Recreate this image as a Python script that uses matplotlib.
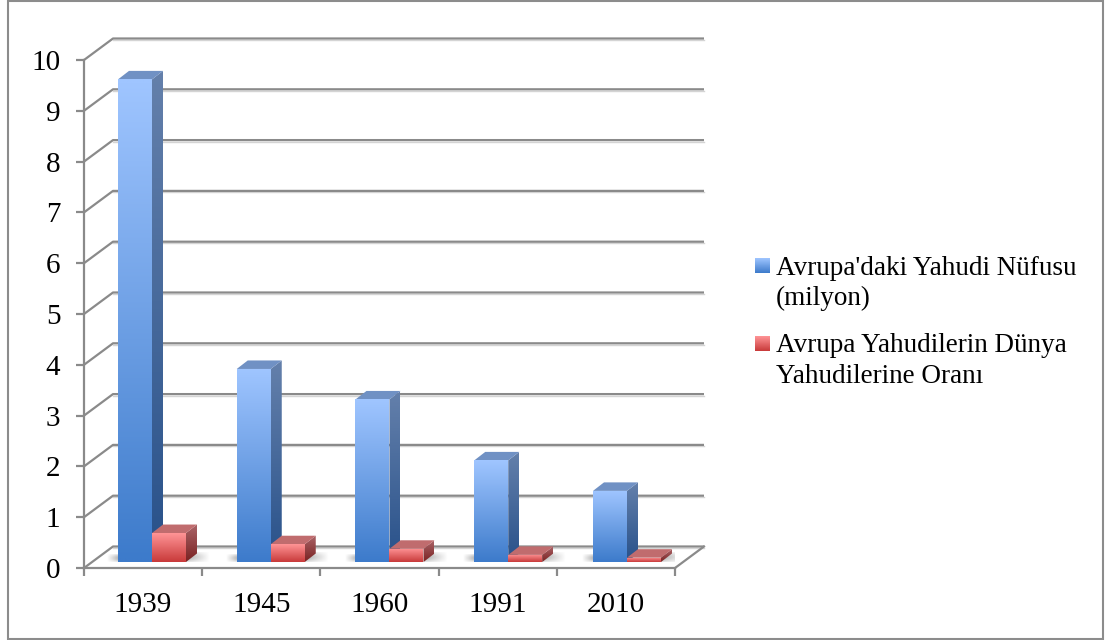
#!/usr/bin/env python3
# plot.py
import matplotlib
matplotlib.use("Agg")
import matplotlib.pyplot as plt
import numpy as np
from matplotlib.colors import LinearSegmentedColormap
from matplotlib.patches import Polygon, Rectangle

plt.rcParams["font.family"] = ["Liberation Serif", "DejaVu Serif"]

# === DATA ===
YEARS = ["1939", "1945", "1960", "1991", "2010"]
POPULATION = [9.5, 3.8, 3.2, 2.0, 1.4]
SHARE = [0.57, 0.35, 0.26, 0.14, 0.085]
LEGEND_LABELS = ["Avrupa'daki Yahudi Nüfusu\n(milyon)",
                 "Avrupa Yahudilerin Dünya\nYahudilerine Oranı"]
Y_TICKS = list(range(0, 11))

# === STYLE ===
W, H = 1105, 640
AX_L, AX_R, AX_T, AX_B = 84, 675, 60, 568  # pixels
PX_X = (AX_R - AX_L) / len(YEARS)  # px per category
PX_Y = (AX_B - AX_T) / 10  # px per unit

GRID = "#8a8a8a"
WALL_DX, WALL_DY = 29 / PX_X, 21.5 / PX_Y  # back wall offset
BAR_W = 34 / PX_X
BAR_STEP = 118.75 / PX_X
BAR_DX, BAR_DY = 11 / PX_X, 8.5 / PX_Y  # bar depth
BASE = 6 / PX_Y  # bars stand a bit above the front edge

BLUE = dict(front=("#9fc5ff", "#3d7bcb"), side=("#6480ab", "#28518a"), top="#7091c4")
RED = dict(front=("#ff9496", "#c83a3a"), side=("#aa6468", "#7a2222"), top="#c06c6e")


def vgrad(c_top, c_bottom):
    cmap = LinearSegmentedColormap.from_list("g", [c_top, c_bottom])
    return cmap(np.linspace(0, 1, 64))[:, None, :]


def grad_poly(ax, pts, colors, z):
    """Fill a polygon with a vertical gradient."""
    pts = np.array(pts)
    ext = [pts[:, 0].min(), pts[:, 0].max(), pts[:, 1].min(), pts[:, 1].max()]
    im = ax.imshow(vgrad(*colors), extent=ext, aspect="auto", zorder=z,
                   interpolation="bilinear", origin="upper")
    poly = Polygon(pts, transform=ax.transData, facecolor="none", edgecolor="none")
    ax.add_patch(poly)
    im.set_clip_path(poly)
    return im


def shadow(ax, x0, x1, y0, y1, fade_right, z):
    """Soft floor shadow next to a bar."""
    a = np.linspace(0.55, 0, 32) if fade_right else np.linspace(0, 0.45, 32)
    rgba = np.zeros((8, 32, 4))
    rgba[..., :3] = 0.4
    # fade towards the top and bottom of the strip too
    rgba[..., 3] = a * np.sin(np.linspace(0.4, np.pi - 0.4, 8))[:, None]
    ax.imshow(rgba, extent=[x0, x1, y0, y1], aspect="auto", zorder=z,
              interpolation="bilinear")


def draw_bar(ax, x, val, st, z):
    y0, y1 = BASE, BASE + val
    grad_poly(ax, [(x + BAR_W, y0), (x + BAR_W + BAR_DX, y0 + BAR_DY),
                   (x + BAR_W + BAR_DX, y1 + BAR_DY), (x + BAR_W, y1)], st["side"], z)
    ax.add_patch(Polygon([(x, y1), (x + BAR_DX, y1 + BAR_DY),
                          (x + BAR_W + BAR_DX, y1 + BAR_DY), (x + BAR_W, y1)],
                         facecolor=st["top"], edgecolor="none", zorder=z))
    grad_poly(ax, [(x, y0), (x + BAR_W, y0), (x + BAR_W, y1), (x, y1)], st["front"], z + 0.1)


fig = plt.figure(figsize=(W / 100, H / 100), dpi=100, facecolor="white")
ax = fig.add_axes([AX_L / W, 1 - AX_B / H, (AX_R - AX_L) / W, (AX_B - AX_T) / H])
ax.patch.set_visible(False)
ax.set_xlim(0, len(YEARS))
ax.set_ylim(0, 10)

# walls and floor
for v in Y_TICKS:
    ax.plot([0, WALL_DX, len(YEARS) + WALL_DX], [v, v + WALL_DY, v + WALL_DY],
            color=GRID, lw=1.6, clip_on=False, zorder=1, solid_capstyle="butt")
    ax.plot([WALL_DX, len(YEARS) + WALL_DX], [v + WALL_DY - 0.03] * 2,
            color="#d4d4d4", lw=1.0, clip_on=False, zorder=0.9)
ax.plot([len(YEARS), len(YEARS) + WALL_DX], [0, WALL_DY], color=GRID, lw=1.6,
        clip_on=False, zorder=1)

# bars
for i, (p, s) in enumerate(zip(POPULATION, SHARE)):
    x = 34 / PX_X + i * BAR_STEP
    shadow(ax, x - 11 / PX_X, x, BASE, BASE + 8 / PX_Y, False, 2)
    shadow(ax, x + 2 * BAR_W, x + 2 * BAR_W + 24 / PX_X, BASE, BASE + 10 / PX_Y, True, 2)
    draw_bar(ax, x, p, BLUE, 3 + i)
    draw_bar(ax, x + BAR_W, s, RED, 3.5 + i)

ax.set_xlim(0, len(YEARS))
ax.set_ylim(0, 10)

# axes
for side in ["top", "right"]:
    ax.spines[side].set_visible(False)
for side in ["left", "bottom"]:
    ax.spines[side].set_color(GRID)
    ax.spines[side].set_linewidth(1.6)
ax.set_yticks(Y_TICKS)
ax.set_xticks(range(len(YEARS) + 1))
ax.set_xticklabels([])
ax.set_xticks(np.arange(len(YEARS)) + 0.5, YEARS, minor=True)
ax.tick_params(axis="both", which="major", direction="out", length=6, width=1.6, color=GRID,
               labelsize=21, pad=11)
ax.tick_params(axis="x", which="minor", length=0, labelsize=21, pad=17.5)

# legend and outer frame in pixel coordinates
ov = fig.add_axes([0, 0, 1, 1], zorder=5)
ov.set_xlim(0, W)
ov.set_ylim(H, 0)
ov.axis("off")
ov.add_patch(Rectangle((8, 0.5), 1095, 638, facecolor="none", edgecolor="#8c8c8c", lw=1.5))
swatch = [(BLUE["front"], 258, 273), (RED["front"], 336, 351)]
for (colors, y0, y1), label, ty in zip(swatch, LEGEND_LABELS, [283.5, 361]):
    ov.imshow(vgrad(*colors), extent=[755, 770, y1, y0], aspect="auto", origin="upper",
              interpolation="bilinear")
    ov.text(776, ty, label, fontsize=19.5, color="black", va="center", ha="left", linespacing=1.3)
ov.set_xlim(0, W)
ov.set_ylim(H, 0)

fig.savefig("out.png", dpi=100)
